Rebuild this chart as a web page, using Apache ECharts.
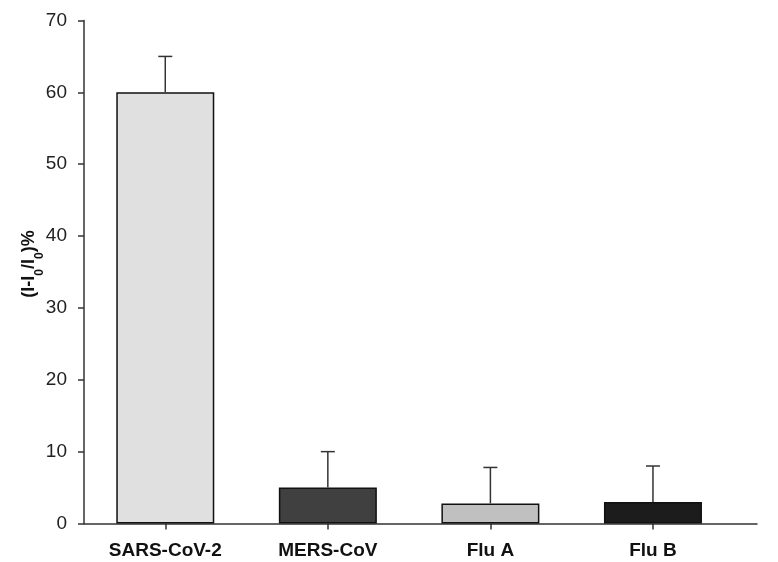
<!DOCTYPE html>
<html>
<head>
<meta charset="utf-8">
<script src="https://cdn.jsdelivr.net/npm/echarts@6/dist/echarts.min.js"></script>
<style>
  html, body { margin: 0; padding: 0; background: #fff; }
  #chart { width: 778px; height: 562px; }
</style>
</head>
<body>
<div id="chart"></div>
<script>
  const categories = ['SARS-CoV-2', 'MERS-CoV', 'Flu A', 'Flu B'];
  const values = [60, 5, 2.8, 3];
  const errors = [5, 5, 5, 5];
  const barColors = ['#e0e0e0', '#404040', '#c0c0c0', '#1c1c1c'];
  const yTicks = [0, 10, 20, 30, 40, 50, 60, 70];

  const positions = categories.map((c, i) => i + 1);

  const myChart = echarts.init(document.getElementById('chart'));
  const font = 'Liberation Sans, Arial, sans-serif';
  const options = {
    animation: false,
    grid: { left: 84, right: 21, top: 20.5, bottom: 38.5, outerBoundsMode: 'none', containLabel: false },
    xAxis: {
      type: 'value',
      min: 0.5,
      max: 4.64,
      splitLine: { show: false },
      axisLine: { show: true, onZero: false, lineStyle: { color: '#333', width: 1.5 } },
      axisTick: { show: true, length: 6, customValues: positions, lineStyle: { color: '#333', width: 1.5 } },
      axisLabel: {
        customValues: positions,
        margin: 18,
        color: '#111',
        fontFamily: font,
        fontWeight: 'bold',
        fontSize: 19,
        formatter: function (v) { return categories[Math.round(v) - 1] || ''; }
      }
    },
    yAxis: {
      type: 'value',
      min: yTicks[0],
      max: yTicks[yTicks.length - 1],
      interval: 10,
      splitLine: { show: false },
      axisLine: { show: true, lineStyle: { color: '#333', width: 1.5 } },
      axisTick: { show: true, length: 6, lineStyle: { color: '#333', width: 1.5 } },
      axisLabel: {
        margin: 17,
        color: '#222',
        fontFamily: font,
        fontSize: 19
      },
      name: '{b|(I-I}{s|0}{b|/I}{s|0}{b|)%}',
      nameLocation: 'middle',
      nameRotate: 90,
      nameGap: 38,
      nameMoveOverlap: false,
      nameTextStyle: {
        padding: [0, 0, 0, 16],
        rich: {
          b: { fontFamily: font, fontWeight: 'bold', fontSize: 18, color: '#111', verticalAlign: 'top', lineHeight: 22 },
          s: { fontFamily: font, fontWeight: 'bold', fontSize: 12, color: '#111', verticalAlign: 'bottom', lineHeight: 26 }
        }
      }
    },
    series: [
      {
        name: 'bars',
        type: 'bar',
        barWidth: 98,
        data: positions.map((p, i) => ({
          value: [p, values[i]],
          itemStyle: { color: barColors[i], borderColor: '#111', borderWidth: 1.5 }
        }))
      },
      {
        name: 'error',
        type: 'custom',
        z: 3,
        data: positions.map((p, i) => [p, values[i], errors[i]]),
        renderItem: function (params, api) {
          const x = api.value(0);
          const v = api.value(1);
          const e = api.value(2);
          const base = api.coord([x, v]);
          const top = api.coord([x, v + e]);
          const style = { stroke: '#333', lineWidth: 1.5 };
          return {
            type: 'group',
            children: [
              { type: 'line', shape: { x1: base[0], y1: base[1], x2: top[0], y2: top[1] }, style: style },
              { type: 'line', shape: { x1: top[0] - 7, y1: top[1], x2: top[0] + 7, y2: top[1] }, style: style }
            ]
          };
        }
      }
    ]
  };
  myChart.setOption(options, true);
  window.addEventListener('resize', function () {
    myChart.resize();
  });
</script>
</body>
</html>
